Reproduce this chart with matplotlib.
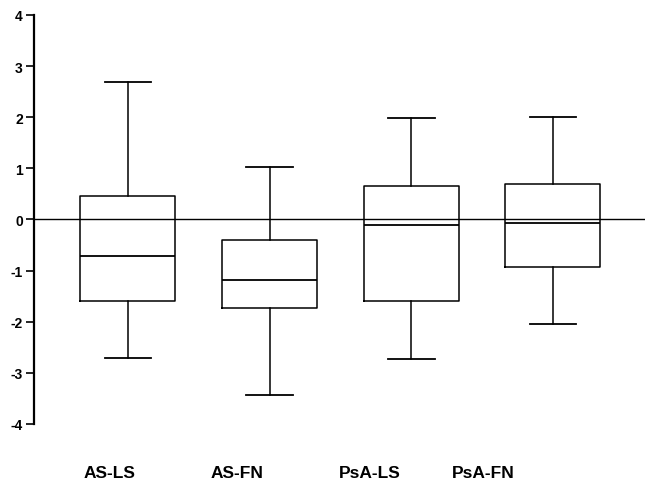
import matplotlib
matplotlib.use("Agg")
import matplotlib.pyplot as plt

categories = ["AS-LS", "AS-FN", "PsA-LS", "PsA-FN"]
whisker_low = [-2.70, -3.44, -2.72, -2.05]
q1 = [-1.60, -1.74, -1.60, -0.92]
median = [-0.72, -1.19, -0.11, -0.06]
q3 = [0.46, -0.41, 0.65, 0.70]
whisker_high = [2.68, 1.03, 1.99, 2.00]
label_pos = [0.87, 1.77, 2.71, 3.51]
yticks = [-4, -3, -2, -1, 0, 1, 2, 3, 4]

plt.rcParams['font.family'] = ['Liberation Sans', 'DejaVu Sans']

fig = plt.figure(figsize=(6.45, 4.89), dpi=100)
ax = fig.add_axes([0.0527, 0.1309, 0.9473, 0.8364])

stats = []
for i, c in enumerate(categories):
    stats.append(dict(label=c, whislo=whisker_low[i], q1=q1[i], med=median[i],
                      q3=q3[i], whishi=whisker_high[i], fliers=[]))
positions = list(range(1, len(categories) + 1))
ax.bxp(stats, positions=positions, widths=0.67, showfliers=False,
       boxprops=dict(color='black', linewidth=1.1),
       whiskerprops=dict(color='black', linewidth=1.1),
       capprops=dict(color='black', linewidth=1.3),
       medianprops=dict(color='black', linewidth=1.3),
       capwidths=0.33)

ax.axhline(0, color='black', linewidth=1.0, zorder=0)

ax.set_xlim(0.337, 4.65)
ax.set_ylim(-4, 4)
ax.set_yticks(yticks)
ax.set_yticklabels([str(t) for t in yticks], fontsize=10, fontweight='bold')
ax.tick_params(axis='y', direction='out', length=6, width=1.2, pad=2)
ax.set_xticks([])
for s in ['top', 'right', 'bottom']:
    ax.spines[s].set_visible(False)
ax.spines['left'].set_linewidth(1.6)

for x, c in zip(label_pos, categories):
    ax.text(x, -4.95, c, ha='center', va='center', fontsize=12.5,
            fontweight='bold', transform=ax.transData)

fig.savefig("out.png", dpi=100)
